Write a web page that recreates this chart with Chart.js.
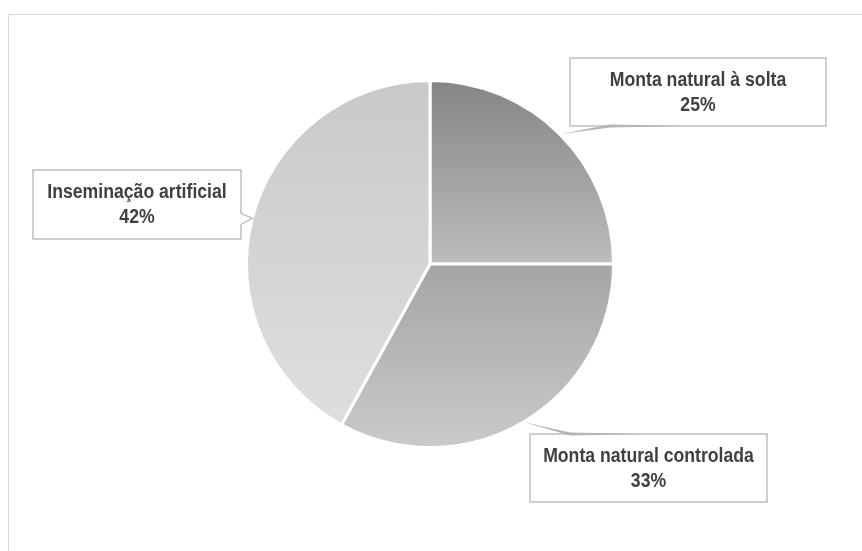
<!DOCTYPE html>
<html>
<head>
<meta charset="utf-8">
<script src="https://cdn.jsdelivr.net/npm/chart.js@4.4.0/dist/chart.umd.min.js"></script>
<style>
    html, body { margin: 0; padding: 0; background: #fff; }
    #wrap { width: 862px; height: 551px; position: relative; }
</style>
</head>
<body>
<div id="wrap"><canvas id="pieChart" width="862" height="551"></canvas></div>
<script>
// Data
const labels = ['Monta natural à solta', 'Monta natural controlada', 'Inseminação artificial'];
const values = [25, 33, 42];

// Gradient stops per slice (fraction of chart area height -> colour)
const sliceStops = [
    [[0, '#858585'], [0.5, '#bcbcbc'], [1, '#d0d0d0']],
    [[0, '#909090'], [0.5, '#a5a5a5'], [1, '#cacaca']],
    [[0, '#c9c9c9'], [1, '#e0e0e0']]
];

// Callout boxes: x, y, w, h and pointer kind
const callouts = [
    { x: 570, y: 58, w: 256, h: 68, side: 'bottom' },
    { x: 530, y: 434, w: 237, h: 68, side: 'top' },
    { x: 33, y: 170, w: 208, h: 69, side: 'right' }
];

// no narrow face available, so squeeze a normal bold face horizontally
const labelFont = 'bold 21px "Liberation Sans", Arial, sans-serif';
const squeeze = 0.84;

function sliceGradient(context) {
    const chart = context.chart;
    const area = chart.chartArea;
    if (!area) return '#bbbbbb';
    const g = chart.ctx.createLinearGradient(0, area.top, 0, area.bottom);
    sliceStops[context.dataIndex].forEach(s => g.addColorStop(s[0], s[1]));
    return g;
}

function narrowText(ctx, text, x, y) {
    ctx.save();
    ctx.translate(x, y);
    ctx.scale(squeeze, 1);
    ctx.fillText(text, 0, 0);
    ctx.restore();
}

// Frame line around the chart (top and left)
const framePlugin = {
    id: 'frame',
    beforeDraw(chart) {
        const ctx = chart.ctx;
        ctx.save();
        ctx.strokeStyle = '#d9d9d9';
        ctx.lineWidth = 1;
        ctx.beginPath();
        ctx.moveTo(8.5, 551);
        ctx.lineTo(8.5, 14.5);
        ctx.lineTo(862, 14.5);
        ctx.stroke();
        ctx.restore();
    }
};

// Data labels inside callout boxes with pointers to the slices
const calloutPlugin = {
    id: 'callouts',
    afterDraw(chart) {
        const ctx = chart.ctx;
        const meta = chart.getDatasetMeta(0);
        const total = values.reduce((a, b) => a + b, 0);
        meta.data.forEach((arc, i) => {
            const p = arc.getProps(['x', 'y', 'startAngle', 'endAngle', 'outerRadius'], true);
            const mid = (p.startAngle + p.endAngle) / 2;
            const ax = p.x + Math.cos(mid) * p.outerRadius;
            const ay = p.y + Math.sin(mid) * p.outerRadius;
            const b = callouts[i];

            ctx.save();
            ctx.lineWidth = 1.5;
            ctx.strokeStyle = '#bfbfbf';
            ctx.fillStyle = '#ffffff';

            // box with pointer
            ctx.beginPath();
            if (b.side === 'right') {
                const py1 = ay - 5, py2 = ay + 6;
                ctx.moveTo(b.x, b.y);
                ctx.lineTo(b.x + b.w, b.y);
                ctx.lineTo(b.x + b.w, py1);
                ctx.lineTo(ax, ay);
                ctx.lineTo(b.x + b.w, py2);
                ctx.lineTo(b.x + b.w, b.y + b.h);
                ctx.lineTo(b.x, b.y + b.h);
                ctx.closePath();
            } else {
                ctx.rect(b.x, b.y, b.w, b.h);
            }
            ctx.fill();
            ctx.stroke();

            // thin wedge leader for top/bottom pointers
            if (b.side === 'bottom' || b.side === 'top') {
                const ey = b.side === 'bottom' ? b.y + b.h : b.y;
                ctx.fillStyle = '#b4b4b4';
                ctx.beginPath();
                ctx.moveTo(ax, ay);
                ctx.lineTo(b.x + 40, ey - 1.5);
                ctx.lineTo(b.x + 115, ey);
                ctx.lineTo(b.x + 40, ey + 1.5);
                ctx.closePath();
                ctx.fill();
            }

            // text
            const pct = Math.round(values[i] / total * 100) + '%';
            ctx.fillStyle = '#404040';
            ctx.font = labelFont;
            ctx.textAlign = 'center';
            ctx.textBaseline = 'middle';
            const cx = b.x + b.w / 2;
            narrowText(ctx, labels[i], cx, b.y + 22);
            narrowText(ctx, pct, cx, b.y + 47);
            ctx.restore();
        });
    }
};

new Chart(document.getElementById('pieChart'), {
    type: 'pie',
    data: {
        labels: labels,
        datasets: [{
            data: values,
            backgroundColor: sliceGradient,
            borderColor: '#ffffff',
            borderWidth: 3
        }]
    },
    options: {
        responsive: false,
        animation: false,
        layout: {
            padding: { left: 245, right: 247, top: 79, bottom: 102 }
        },
        plugins: {
            legend: { display: false },
            tooltip: { enabled: false }
        }
    },
    plugins: [framePlugin, calloutPlugin]
});
</script>
</body>
</html>
